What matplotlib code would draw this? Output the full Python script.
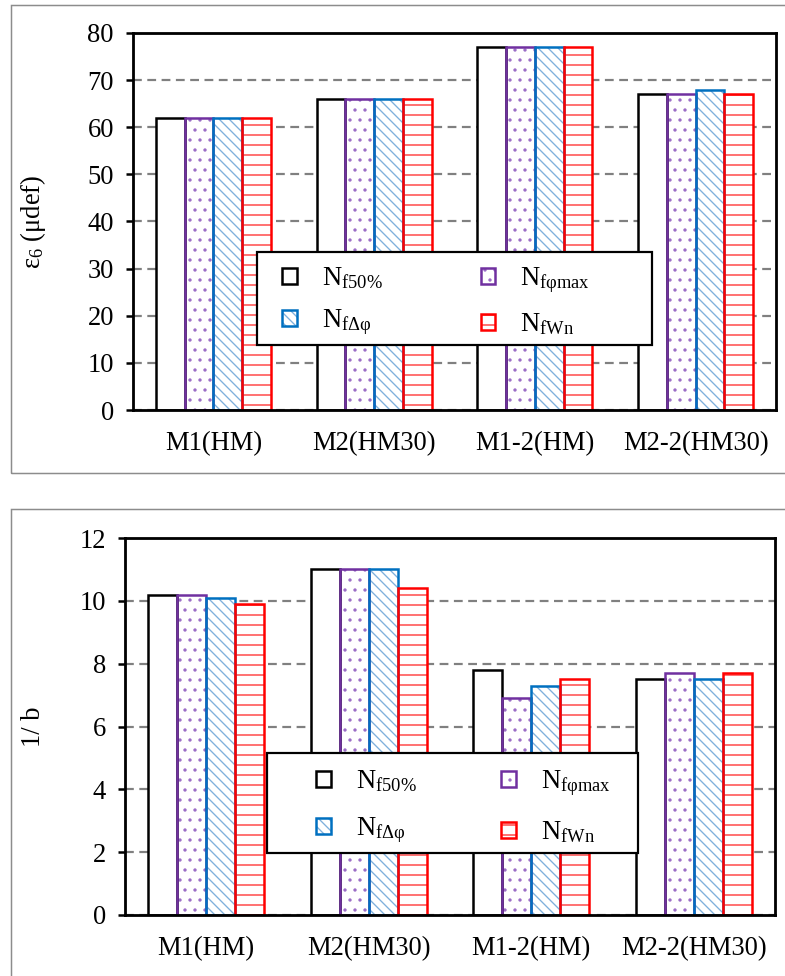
import numpy as np
import matplotlib
matplotlib.use("Agg")
from matplotlib import pyplot as plt
from matplotlib.patches import Rectangle
from matplotlib.legend_handler import HandlerTuple

plt.rcParams["font.family"] = ["Liberation Serif", "DejaVu Serif"]
plt.rcParams["mathtext.fontset"] = "custom"
plt.rcParams["mathtext.rm"] = "Liberation Serif"
plt.rcParams["mathtext.it"] = "Liberation Serif:italic"
plt.rcParams["hatch.linewidth"] = 1.6

# data
categories = ["M1(HM)", "M2(HM30)", "M1-2(HM)", "M2-2(HM30)"]
series = ["$\\mathrm{N_{f50\\%}}$", "$\\mathrm{N_{fφmax}}$",
          "$\\mathrm{N_{fΔφ}}$", "$\\mathrm{N_{fWn}}$"]
eps6 = [
    [62, 66, 77, 67],  # Nf50%
    [62, 66, 77, 67],  # Nf phi max
    [62, 66, 77, 68],  # Nf delta phi
    [62, 66, 77, 67],  # Nf Wn
]
inv_b = [
    [10.2, 11.0, 7.8, 7.5],
    [10.2, 11.0, 6.9, 7.7],
    [10.1, 11.0, 7.3, 7.5],
    [9.9, 10.4, 7.5, 7.7],
]

edge_colors = ["black", "#7030A0", "#0070C0", "#FF0000"]
hatch_colors = [None, "#9a6cc6", "#7fb0dc", "#ff3030"]
hatches = [None, ".", "\\\\", "-"]

DPI = 60
W, H = 785, 976
PT = 72.0 / DPI  # points per pixel
FS = 26.5 * PT

fig = plt.figure(figsize=(W / DPI, H / DPI), dpi=DPI)

# gray frames around each panel
for (x0, y0, x1, y1) in [(11, 5, 790, 473), (11, 509, 790, 985)]:
    fig.patches.append(Rectangle((x0 / W, 1 - y1 / H), (x1 - x0) / W, (y1 - y0) / H,
                                 transform=fig.transFigure, fill=False,
                                 edgecolor="#8c8c8c", linewidth=1.5 * PT))


def px_rect(l, t, r, b):
    return [l / W, 1 - b / H, (r - l) / W, (b - t) / H]


def panel(rect, data, ymax, ystep, ylabel, ylab_x, box, leg_anchor, colsp, lsp):
    ax = fig.add_axes(px_rect(*rect))
    l, t, r, b = rect
    x = np.arange(len(categories))
    bw = 0.179
    handles = []
    for i, vals in enumerate(data):
        pos = x + (i - 1.5) * bw
        if hatches[i]:
            hb = ax.bar(pos, vals, bw, facecolor="white", edgecolor=hatch_colors[i],
                        hatch=hatches[i], linewidth=0, zorder=3)
            ob = ax.bar(pos, vals, bw, fill=False, edgecolor=edge_colors[i],
                        linewidth=2.5 * PT, zorder=4)
            handles.append((hb, ob))
        else:
            ob = ax.bar(pos, vals, bw, facecolor="white", edgecolor=edge_colors[i],
                        linewidth=2.5 * PT, zorder=4)
            handles.append(ob)
    ax.set_xlim(-0.5, 3.5)
    ax.set_ylim(0, ymax)
    ax.set_yticks(np.arange(0, ymax + ystep / 2, ystep))
    ax.yaxis.grid(True, color="#808080", linestyle=(0, (4, 2.5)),
                  linewidth=2.2 * PT, zorder=0)
    ax.set_axisbelow(True)
    ax.set_xticks(x)
    ax.set_xticklabels(categories)
    for s in ax.spines.values():
        s.set_linewidth(2.8 * PT)
        s.set_zorder(6)
    ax.tick_params(axis="x", length=0, pad=21 * PT, labelsize=FS)
    ax.tick_params(axis="y", length=7 * PT, width=2.5 * PT, pad=12 * PT,
                   labelsize=FS, direction="out")
    ax.set_ylabel(ylabel, fontsize=FS)
    ax.yaxis.set_label_coords((ylab_x - l) / (r - l), 0.5)

    # legend frame drawn by hand, entries placed inside it
    bl, bt, br, bb = box
    ax.add_patch(Rectangle(((bl - l) / (r - l), (b - bb) / (b - t)),
                           (br - bl) / (r - l), (bb - bt) / (b - t),
                           transform=ax.transAxes, facecolor="white",
                           edgecolor="black", linewidth=2.2 * PT, zorder=7))
    order = [0, 2, 1, 3]
    leg = ax.legend([handles[k] for k in order], [series[k] for k in order],
                    handler_map={tuple: HandlerTuple(ndivide=1, pad=0)},
                    ncol=2, loc="upper left",
                    bbox_to_anchor=((leg_anchor[0] - l) / (r - l),
                                    (b - leg_anchor[1]) / (b - t)),
                    fontsize=FS, frameon=False, handlelength=0.55,
                    handleheight=0.55, handletextpad=0.95, columnspacing=colsp,
                    borderpad=0, labelspacing=lsp, borderaxespad=0)
    leg.set_zorder(8)
    return ax


panel((133, 33, 776, 410), eps6, 80, 10, "$\\mathrm{ε_6}$ (μdef)", 48,
      (257, 252, 652, 345), (282, 265), 3.7, 0.62)
panel((125, 538, 775, 915), inv_b, 12, 2, "1/ b", 46,
      (267, 753, 638, 853), (316, 768), 3.2, 0.8)

fig.savefig("out.png", dpi=DPI)
